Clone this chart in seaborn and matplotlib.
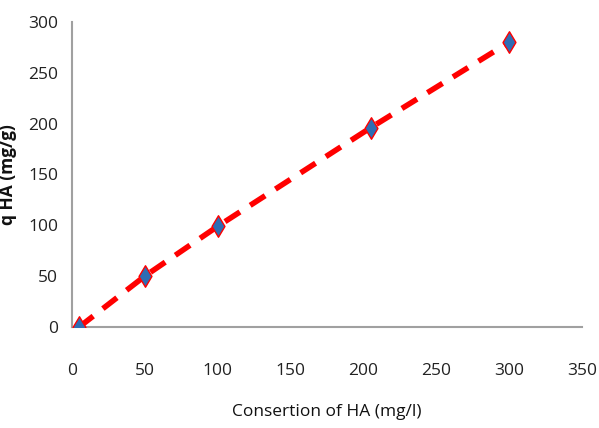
import matplotlib
matplotlib.use("Agg")
import matplotlib.pyplot as plt
import seaborn as sns
import pandas as pd

concentration = [5, 50, 100, 205, 300]
q_ha = [0, 50, 99, 196, 280]
x_ticks = [0, 50, 100, 150, 200, 250, 300, 350]
y_ticks = [0, 50, 100, 150, 200, 250, 300]

df = pd.DataFrame({"c": concentration, "q": q_ha})

sns.set_style("white")
plt.rcParams['font.family'] = ['Open Sans', 'DejaVu Sans']

fig = plt.figure(figsize=(5.99, 4.28), dpi=100)
ax = fig.add_axes([0.120, 0.236, 0.852, 0.713])

sns.lineplot(data=df, x="c", y="q", ax=ax, color="#FF0000", linewidth=4,
             linestyle=(0, (3.2, 2.2)), zorder=2)
sns.scatterplot(data=df, x="c", y="q", ax=ax, marker="d", s=120,
                color="#2E6DB4", edgecolor="#FF0000", linewidth=1.0, zorder=3)

ax.set_xlim(0, 350)
ax.set_ylim(0, 300)
ax.set_xticks(x_ticks)
ax.set_yticks(y_ticks)
ax.tick_params(axis="x", length=0, pad=26, labelsize=12.5, colors="#222222")
ax.tick_params(axis="y", length=0, pad=10, labelsize=12.5, colors="#222222")

for s in ["top", "right"]:
    ax.spines[s].set_visible(False)
for s in ["left", "bottom"]:
    ax.spines[s].set_color("#A0A0A0")
    ax.spines[s].set_linewidth(1.5)

ax.set_xlabel("Consertion of HA (mg/l)", fontsize=12.5, color="#111111", labelpad=18)
ax.set_ylabel("q HA (mg/g)", fontsize=12.5, fontweight="bold", color="#111111", labelpad=8)

fig.savefig("out.png", dpi=100)
